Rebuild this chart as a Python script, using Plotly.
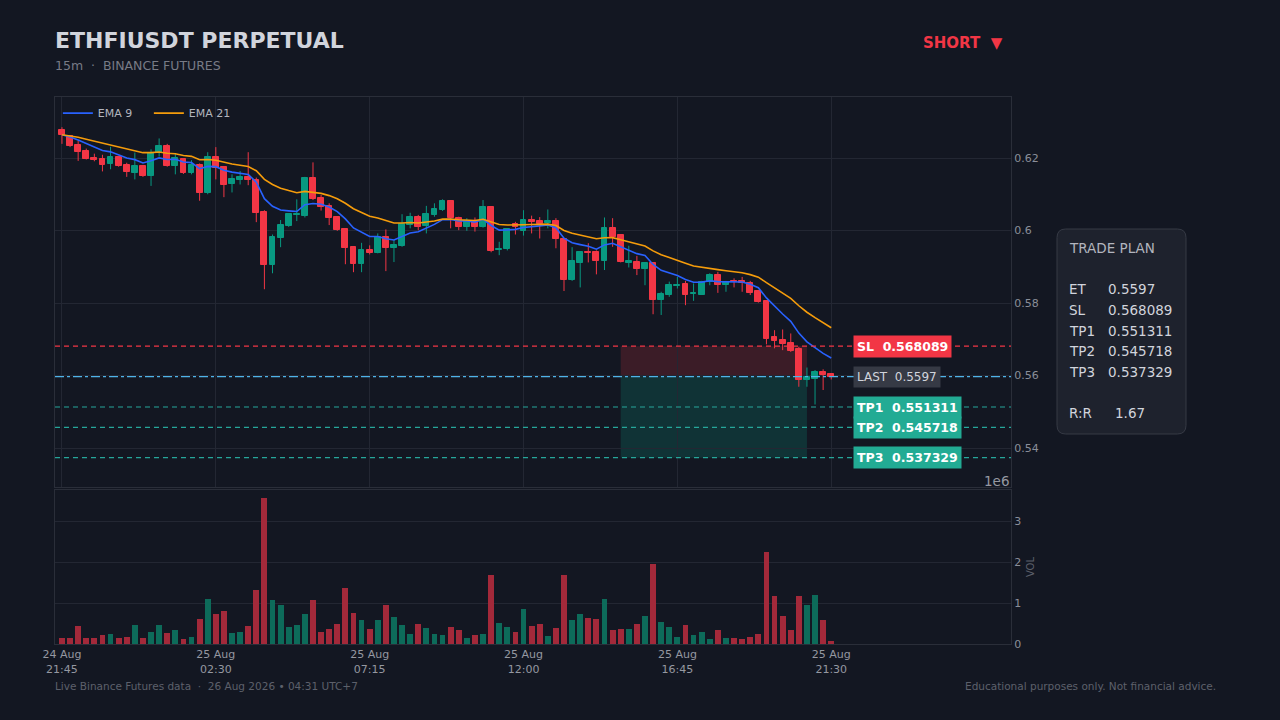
import plotly.graph_objects as go
import pandas as pd

# dados (15m, 96 candles)
start_time = "2026-08-24 21:45"

opens = [
    0.6277, 0.6261, 0.6236, 0.6219, 0.6200, 0.6197, 0.6184, 0.6203, 0.6181, 0.6159,
    0.6178, 0.6151, 0.6215, 0.6233, 0.6179, 0.6196, 0.6159, 0.6181, 0.6104, 0.6202,
    0.6175, 0.6129, 0.6140, 0.6148, 0.6139, 0.6052, 0.5905, 0.5980, 0.6012, 0.6044,
    0.6041, 0.6146, 0.6090, 0.6068, 0.6037, 0.6003, 0.5955, 0.5907, 0.5946, 0.5939,
    0.5981, 0.5952, 0.5957, 0.6016, 0.6036, 0.6012, 0.6043, 0.6056, 0.6082, 0.6034,
    0.6010, 0.6026, 0.6010, 0.6064, 0.5945, 0.5949, 0.6017, 0.5999, 0.6030, 0.6026,
    0.6021, 0.6026, 0.5976, 0.5863, 0.5911, 0.5941, 0.5941, 0.5916, 0.6008, 0.5987,
    0.5910, 0.5913, 0.5894, 0.5910, 0.5808, 0.5822, 0.5848, 0.5852, 0.5824, 0.5822,
    0.5859, 0.5877, 0.5849, 0.5861, 0.5861, 0.5856, 0.5834, 0.5805, 0.5706, 0.5698,
    0.5689, 0.5673, 0.5587, 0.5591, 0.5609, 0.5605,
]
highs = [
    0.6285, 0.6263, 0.6248, 0.6226, 0.6212, 0.6209, 0.6231, 0.6206, 0.6187, 0.6215,
    0.6181, 0.6224, 0.6254, 0.6239, 0.6213, 0.6200, 0.6194, 0.6185, 0.6216, 0.6230,
    0.6176, 0.6155, 0.6164, 0.6216, 0.6146, 0.6056, 0.5989, 0.6029, 0.6047, 0.6086,
    0.6148, 0.6188, 0.6098, 0.6075, 0.6040, 0.6005, 0.5957, 0.5966, 0.5959, 0.5992,
    0.6003, 0.5974, 0.6045, 0.6049, 0.6043, 0.6068, 0.6075, 0.6086, 0.6084, 0.6038,
    0.6034, 0.6036, 0.6084, 0.6066, 0.5969, 0.6006, 0.6024, 0.6056, 0.6041, 0.6037,
    0.6058, 0.6034, 0.5978, 0.5954, 0.5941, 0.5965, 0.5945, 0.6036, 0.6034, 0.5987,
    0.5958, 0.5930, 0.5912, 0.5912, 0.5831, 0.5859, 0.5872, 0.5861, 0.5854, 0.5861,
    0.5882, 0.5886, 0.5861, 0.5868, 0.5872, 0.5861, 0.5836, 0.5808, 0.5725, 0.5727,
    0.5716, 0.5679, 0.5622, 0.5615, 0.5617, 0.5606,
]
lows = [
    0.6239, 0.6230, 0.6192, 0.6196, 0.6191, 0.6163, 0.6169, 0.6176, 0.6148, 0.6141,
    0.6148, 0.6123, 0.6204, 0.6176, 0.6155, 0.6156, 0.6155, 0.6082, 0.6100, 0.6141,
    0.6092, 0.6105, 0.6127, 0.6125, 0.6023, 0.5838, 0.5882, 0.5954, 0.6010, 0.6026,
    0.6036, 0.6084, 0.6055, 0.6015, 0.5999, 0.5907, 0.5885, 0.5885, 0.5934, 0.5937,
    0.5888, 0.5913, 0.5955, 0.6006, 0.6001, 0.5992, 0.6038, 0.6054, 0.6006, 0.6001,
    0.5999, 0.5997, 0.6008, 0.5940, 0.5932, 0.5945, 0.5989, 0.5986, 0.5992, 0.5978,
    0.6006, 0.5951, 0.5833, 0.5861, 0.5843, 0.5912, 0.5879, 0.5891, 0.5955, 0.5912,
    0.5898, 0.5877, 0.5849, 0.5769, 0.5767, 0.5817, 0.5840, 0.5794, 0.5806, 0.5822,
    0.5849, 0.5828, 0.5831, 0.5843, 0.5831, 0.5822, 0.5801, 0.5686, 0.5675, 0.5670,
    0.5665, 0.5569, 0.5569, 0.5520, 0.5560, 0.5589,
]
closes = [
    0.6264, 0.6234, 0.6217, 0.6198, 0.6194, 0.6182, 0.6202, 0.6179, 0.6162, 0.6178,
    0.6150, 0.6215, 0.6233, 0.6179, 0.6199, 0.6159, 0.6180, 0.6104, 0.6202, 0.6173,
    0.6126, 0.6141, 0.6148, 0.6139, 0.6049, 0.5905, 0.5983, 0.6015, 0.6045, 0.6045,
    0.6146, 0.6088, 0.6064, 0.6035, 0.6001, 0.5952, 0.5907, 0.5946, 0.5938, 0.5983,
    0.5952, 0.5961, 0.6018, 0.6036, 0.6010, 0.6045, 0.6059, 0.6082, 0.6034, 0.6010,
    0.6026, 0.6010, 0.6064, 0.5944, 0.5950, 0.6003, 0.6010, 0.6029, 0.6024, 0.6018,
    0.6026, 0.5976, 0.5863, 0.5916, 0.5941, 0.5938, 0.5916, 0.6008, 0.5983, 0.5914,
    0.5915, 0.5894, 0.5910, 0.5808, 0.5825, 0.5849, 0.5851, 0.5822, 0.5827, 0.5859,
    0.5877, 0.5849, 0.5859, 0.5859, 0.5854, 0.5827, 0.5803, 0.5702, 0.5696, 0.5687,
    0.5668, 0.5587, 0.5596, 0.5609, 0.5601, 0.5597,
]
# volume em milhoes
volumes = [
    0.15, 0.15, 0.45, 0.15, 0.15, 0.23, 0.25, 0.15, 0.18, 0.47,
    0.15, 0.30, 0.47, 0.28, 0.33, 0.13, 0.18, 0.62, 1.11, 0.74,
    0.81, 0.28, 0.30, 0.45, 1.33, 3.57, 1.08, 0.96, 0.42, 0.47,
    0.72, 1.08, 0.30, 0.37, 0.50, 1.37, 0.76, 0.59, 0.37, 0.59,
    0.96, 0.67, 0.47, 0.25, 0.50, 0.40, 0.25, 0.23, 0.42, 0.35,
    0.15, 0.23, 0.25, 1.69, 0.52, 0.42, 0.30, 0.86, 0.45, 0.50,
    0.20, 0.40, 1.69, 0.59, 0.72, 0.64, 0.62, 1.11, 0.33, 0.37,
    0.37, 0.50, 0.69, 1.96, 0.54, 0.42, 0.18, 0.47, 0.23, 0.30,
    0.13, 0.33, 0.15, 0.15, 0.13, 0.18, 0.25, 2.25, 1.18, 0.69,
    0.35, 1.18, 0.96, 1.20, 0.59, 0.08,
]

tick_index = [0, 19, 38, 57, 76, 95]
tick_labels = ["24 Aug<br>21:45", "25 Aug<br>02:30", "25 Aug<br>07:15",
               "25 Aug<br>12:00", "25 Aug<br>16:45", "25 Aug<br>21:30"]

entry = 0.5597
stop_loss = 0.568089
take_profits = [0.551311, 0.545718, 0.537329]
tp_names = ["TP1", "TP2", "TP3"]
risk_reward = 1.67
zone_start, zone_end = 69, 92

BG = "#131722"
GRID = "#232733"
BORDER = "#2a2e39"
UP = "#089981"
DOWN = "#f23645"
TEXT = "#d1d4dc"
MUTED = "#8a8e99"

times = pd.date_range(start_time, periods=len(closes), freq="15min")
bar = pd.Timedelta(minutes=15)
bar_ms = 15 * 60 * 1000
x_range = [times[0] - 0.86 * bar, times[0] + 117.2 * bar]

close_s = pd.Series(closes)
ema9 = close_s.ewm(span=9, adjust=False).mean()
ema21 = close_s.ewm(span=21, adjust=False).mean()

is_up = [c >= o for o, c in zip(opens, closes)]
body_colors = [UP if u else DOWN for u in is_up]
vol_colors = ["#0d6b5a" if u else "#a3293a" for u in is_up]

fig = go.Figure()

# pavios (um traco por cor)
for up_flag, color in [(True, UP), (False, DOWN)]:
    wx, wy = [], []
    for t, h, l, u in zip(times, highs, lows, is_up):
        if u == up_flag:
            wx += [t, t, None]
            wy += [l, h, None]
    fig.add_trace(go.Scatter(x=wx, y=wy, mode="lines", line=dict(color=color, width=1),
                             showlegend=False, hoverinfo="skip", xaxis="x", yaxis="y"))

# corpos
fig.add_trace(go.Bar(
    x=times, y=[c - o for o, c in zip(opens, closes)], base=opens,
    marker=dict(color=body_colors, line=dict(color=body_colors, width=1)),
    width=0.72 * bar_ms, showlegend=False, xaxis="x", yaxis="y",
))

fig.add_trace(go.Scatter(x=times, y=ema9, mode="lines", name="EMA 9",
                         line=dict(color="#2962ff", width=1.6), xaxis="x", yaxis="y"))
fig.add_trace(go.Scatter(x=times, y=ema21, mode="lines", name="EMA 21",
                         line=dict(color="#f59c0b", width=1.6), xaxis="x", yaxis="y"))

fig.add_trace(go.Bar(x=times, y=volumes, marker=dict(color=vol_colors, line_width=0),
                     width=0.72 * bar_ms, showlegend=False,
                     xaxis="x2", yaxis="y2"))

# zonas de risco / alvo
fig.add_shape(type="rect", xref="x", yref="y", x0=times[zone_start], x1=times[zone_end],
              y0=entry, y1=stop_loss, fillcolor="rgba(242,54,69,0.18)", line_width=0, layer="below")
fig.add_shape(type="rect", xref="x", yref="y", x0=times[zone_start], x1=times[zone_end],
              y0=take_profits[-1], y1=entry, fillcolor="rgba(8,153,129,0.22)", line_width=0, layer="below")

# linhas horizontais
fig.add_shape(type="line", xref="paper", yref="y", x0=0, x1=1, y0=stop_loss, y1=stop_loss,
              line=dict(color=DOWN, width=1.2, dash="5px,4px"))
fig.add_shape(type="line", xref="paper", yref="y", x0=0, x1=1, y0=entry, y1=entry,
              line=dict(color="#4fb3e8", width=1.2, dash="dashdot"))
for tp in take_profits:
    fig.add_shape(type="line", xref="paper", yref="y", x0=0, x1=1, y0=tp, y1=tp,
                  line=dict(color="#26a69a", width=1.2, dash="5px,4px"))

label_x = 0.835
fig.add_annotation(x=label_x, xref="paper", y=stop_loss, yref="y", xanchor="left",
                   text=f"<b>SL  {stop_loss:.6f}</b>", showarrow=False,
                   font=dict(color="white", size=12.5), bgcolor=DOWN, borderpad=3)
fig.add_annotation(x=label_x, xref="paper", y=entry, yref="y", xanchor="left",
                   text=f"LAST  {entry}", showarrow=False,
                   font=dict(color=TEXT, size=12), bgcolor="#363a45", borderpad=3)
for name, tp in zip(tp_names, take_profits):
    fig.add_annotation(x=label_x, xref="paper", y=tp, yref="y", xanchor="left",
                       text=f"<b>{name}  {tp:.6f}</b>", showarrow=False,
                       font=dict(color="white", size=12.5), bgcolor="#22ab94", borderpad=3)


def py(pix):
    # pixel vertical da figura -> coordenada paper
    return (644 - pix) / 547


def px(pix):
    return (pix - 55) / 956


def note(x, y, text, color, size, anchor="left"):
    fig.add_annotation(x=x, y=y, xref="paper", yref="paper", xanchor=anchor,
                       yanchor="middle", text=text, showarrow=False,
                       font=dict(color=color, size=size))


# caixa do trade plan (fora da area do grafico)
x0, x1, y0, y1 = px(1057), px(1186), py(434), py(229)
rx, ry = 0.009, 0.016
path = (f"M {x0+rx},{y0} L {x1-rx},{y0} Q {x1},{y0} {x1},{y0+ry} "
        f"L {x1},{y1-ry} Q {x1},{y1} {x1-rx},{y1} L {x0+rx},{y1} "
        f"Q {x0},{y1} {x0},{y1-ry} L {x0},{y0+ry} Q {x0},{y0} {x0+rx},{y0} Z")
fig.add_shape(type="path", xref="paper", yref="paper", path=path,
              fillcolor="#1e222d", line=dict(color="#363a45", width=1))

plan_rows = [("ET", f"{entry}"), ("SL", f"{stop_loss:.6f}")] + \
            [(n, f"{v:.6f}") for n, v in zip(tp_names, take_profits)]
note(px(1067), py(248), "TRADE PLAN", "#b2b5be", 13.5)
for k, (lab, val) in enumerate(plan_rows):
    yy = py(289 + k * 20.8)
    note(px(1067), yy, lab, TEXT, 13.5)
    note(px(1106), yy, val, TEXT, 13.5)
note(px(1067), py(413), "R:R", TEXT, 13.5)
note(px(1113), py(413), f"{risk_reward}", TEXT, 13.5)

# cabecalho e rodape
note(px(53), py(40), "<b>ETHFIUSDT PERPETUAL</b>", TEXT, 22)
note(px(53), py(66), "15m  ·  BINANCE FUTURES", "#787b86", 12.5)
note(px(1005), py(43), "<b>SHORT  ▼</b>", DOWN, 15, anchor="right")
note(1, py(481), "1e6", "#9598a1", 13.5, anchor="right")
note(px(53), py(686), "Live Binance Futures data  ·  26 Aug 2026 • 04:31 UTC+7", "#5d606b", 10.5)
note(px(1218), py(686), "Educational purposes only. Not financial advice.", "#5d606b", 10.5,
     anchor="right")

tick_vals = [times[i] for i in tick_index]
axis_common = dict(showline=True, linecolor=BORDER, linewidth=1, mirror=True,
                   zeroline=False, ticks="")

fig.update_layout(
    width=1280, height=720,
    margin=dict(l=55, r=269, t=97, b=76),
    paper_bgcolor=BG, plot_bgcolor=BG,
    font=dict(family="DejaVu Sans", color=MUTED, size=11),
    barmode="overlay", bargap=0,
    showlegend=True,
    legend=dict(x=0.003, y=0.997, xanchor="left", yanchor="top", orientation="h",
                entrywidth=46, bgcolor="rgba(0,0,0,0)", font=dict(color="#b2b5be", size=11)),
    xaxis=dict(domain=[0, 1], anchor="y", range=x_range, tickvals=tick_vals,
               showticklabels=False, showgrid=True, gridcolor=GRID, **axis_common),
    yaxis=dict(domain=[0.287, 1], side="right", range=[0.52924, 0.63683],
               dtick=0.02, tick0=0.54, showgrid=True, gridcolor=GRID,
               tickfont=dict(color=MUTED, size=11), **axis_common),
    xaxis2=dict(domain=[0, 1], anchor="y2", matches="x", range=x_range,
                tickvals=tick_vals, ticktext=tick_labels, showgrid=False,
                tickfont=dict(color="#9598a1", size=11), **axis_common),
    yaxis2=dict(domain=[0, 0.2815], side="right", range=[0, 3.76], dtick=1,
                showgrid=True, gridcolor=GRID, tickfont=dict(color=MUTED, size=11),
                title=dict(text="VOL", font=dict(color="#5d606b", size=10), standoff=6),
                **axis_common),
)

# sem margem branca do navegador
fig.write_html("out.html", config={"displayModeBar": False},
               post_script="document.body.style.margin='0';")
